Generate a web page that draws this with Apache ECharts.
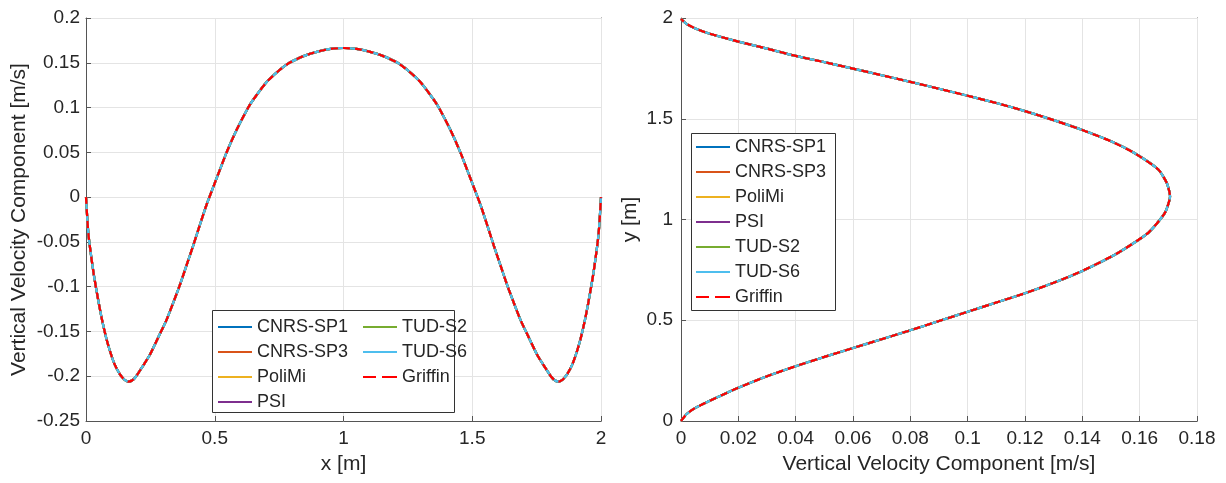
<!DOCTYPE html>
<html>
<head>
<meta charset="utf-8">
<script src="https://cdn.jsdelivr.net/npm/echarts@6/dist/echarts.min.js"></script>
<style>
html,body{margin:0;padding:0;background:#fff;}
#chart{width:1226px;height:483px;}
</style>
</head>
<body>
<div id="chart"></div>
<script>
// ---------- DATA ----------
const seriesNames = ['CNRS-SP1','CNRS-SP3','PoliMi','PSI','TUD-S2','TUD-S6','Griffin'];
const seriesColors = ['#0072BD','#D95319','#EDB120','#7E2F8E','#77AC30','#4DBEEE','#FF0000'];

// Left panel: vertical velocity along horizontal line, x [m]
const leftX = [0,0.005,0.01,0.02,0.03,0.04,0.05,0.06,0.07,0.08,0.09,0.1,0.11,0.12,0.13,0.14,0.15,0.165,0.18,0.195,0.22,0.247,0.28,0.312,0.34,0.364,0.39,0.416,0.44,0.468,0.5,0.545,0.585,0.629,0.65,0.7,0.75,0.79,0.85,0.9,0.95,1.0,
  1.05,1.1,1.15,1.21,1.25,1.3,1.35,1.371,1.415,1.455,1.5,1.532,1.56,1.584,1.61,1.636,1.66,1.688,1.72,1.753,1.78,1.805,1.82,1.835,1.85,1.86,1.87,1.88,1.89,1.9,1.91,1.92,1.93,1.94,1.95,1.96,1.97,1.98,1.99,1.995,2.0];
const leftV = [0,-0.024,-0.043,-0.066,-0.086,-0.103,-0.119,-0.134,-0.147,-0.159,-0.169,-0.178,-0.186,-0.192,-0.197,-0.201,-0.204,-0.206,-0.2045,-0.2,-0.189,-0.1766,-0.157,-0.1376,-0.117,-0.0986,-0.0765,-0.0544,-0.033,-0.0086,0.0155,0.0492,0.0752,0.0996,0.109,0.128,0.1415,0.15,0.158,0.1625,0.1655,0.1665,
  0.1655,0.1625,0.158,0.15,0.1415,0.128,0.109,0.0996,0.0752,0.0492,0.0155,-0.0086,-0.033,-0.0544,-0.0765,-0.0986,-0.117,-0.1376,-0.157,-0.1766,-0.189,-0.2,-0.2045,-0.206,-0.204,-0.201,-0.197,-0.192,-0.186,-0.178,-0.169,-0.159,-0.147,-0.134,-0.119,-0.103,-0.086,-0.066,-0.043,-0.024,0];

// Right panel: vertical velocity vs y [m]
const rightV = [0,0.002,0.005,0.01,0.015,0.02,0.03,0.04,0.05,0.06,0.07,0.08,0.09,0.1,0.11,0.12,0.13,0.14,0.1524,0.163,0.1688,0.1706,0.1695,0.1665,0.158,0.15,0.14,0.13,0.12,0.11,0.1,0.09,0.08,0.07,0.06,0.05,0.04,0.03,0.02,0.01,0.005,0.002,0];
const rightY = [0,0.035,0.065,0.1,0.133,0.165,0.222,0.272,0.318,0.362,0.406,0.45,0.496,0.542,0.588,0.634,0.686,0.745,0.834,0.934,1.033,1.116,1.18,1.248,1.331,1.388,1.444,1.493,1.538,1.578,1.614,1.649,1.683,1.716,1.749,1.781,1.812,1.848,1.883,1.922,1.948,1.97,1.995];

// Axis ranges / tick steps
const leftXRange = [0, 2, 0.5];
const leftYRange = [-0.25, 0.2, 0.05];
const rightXRange = [0, 0.18, 0.02];
const rightYRange = [0, 2, 0.5];

const leftXTitle = 'x [m]';
const leftYTitle = 'Vertical Velocity Component [m/s]';
const rightXTitle = 'Vertical Velocity Component [m/s]';
const rightYTitle = 'y [m]';

// ---------- CHART ----------
const FONT = '"Liberation Sans", Arial, Helvetica, sans-serif';
const TXT = '#262626';
const AX = '#555555';
const GRIDC = '#e4e4e4';
const TICK_FS = 19, TITLE_FS = 21, LEGEND_FS = 18;

function mainAxis(range, gridIndex, position, name, nameGap, labelMargin) {
  return {
    type: 'value', gridIndex, position, min: range[0], max: range[1], interval: range[2],
    name, nameLocation: 'middle', nameGap,
    nameTextStyle: {fontFamily: FONT, fontSize: TITLE_FS, color: TXT},
    axisLine: {show: true, onZero: false, lineStyle: {color: AX, width: 1}},
    axisTick: {show: true, inside: true, length: 5, lineStyle: {color: AX}},
    axisLabel: {show: true, fontFamily: FONT, fontSize: TICK_FS, color: TXT, margin: labelMargin, showMinLabel: true, showMaxLabel: true, hideOverlap: false},
    splitLine: {show: true, lineStyle: {color: GRIDC, width: 1}},
    z: 1
  };
}
function boxAxis(range, gridIndex, position) {
  return {
    type: 'value', gridIndex, position, min: range[0], max: range[1], interval: range[2],
    axisLine: {show: true, onZero: false, lineStyle: {color: AX, width: 1}},
    axisTick: {show: true, inside: true, length: 5, lineStyle: {color: AX}},
    axisLabel: {show: false},
    splitLine: {show: false}
  };
}

const leftData = leftX.map((x, i) => [x, leftV[i]]);
const rightData = rightV.map((v, i) => [v, rightY[i]]);

const series = [];
[leftData, rightData].forEach((d, panel) => {
  seriesNames.forEach((n, i) => {
    const dashed = n === 'Griffin';
    series.push({
      type: 'line', name: n, xAxisIndex: panel * 2, yAxisIndex: panel * 2,
      data: d, symbol: 'none', showSymbol: false, smooth: 0.2,
      color: seriesColors[i],
      lineStyle: {color: seriesColors[i], width: 2.2, type: dashed ? [7, 5] : 'solid'},
      z: 3 + i, animation: false
    });
  });
});

const SOLID_ICON = 'rect';
const DASH_ICON = 'path://M0,0h13v2h-13z M19,0h15v2h-15z';

function legendBlock(names, left, top) {
  return {
    show: true, orient: 'vertical', left, top, padding: 0, itemGap: 7,
    itemWidth: 34, itemHeight: 2,
    data: names.map(n => ({name: n, icon: n === 'Griffin' ? DASH_ICON : SOLID_ICON})),
    textStyle: {fontFamily: FONT, fontSize: LEGEND_FS, color: TXT, lineHeight: 18},
    selectedMode: false, z: 10
  };
}

const option = {
  animation: false,
  backgroundColor: '#ffffff',
  grid: [
    {left: 86, top: 18, width: 515, height: 403, outerBoundsMode: 'none', containLabel: false},
    {left: 681, top: 18, width: 516, height: 403, outerBoundsMode: 'none', containLabel: false}
  ],
  xAxis: [
    mainAxis(leftXRange, 0, 'bottom', leftXTitle, 33, 8),
    boxAxis(leftXRange, 0, 'top'),
    mainAxis(rightXRange, 1, 'bottom', rightXTitle, 33, 8),
    boxAxis(rightXRange, 1, 'top')
  ],
  yAxis: [
    mainAxis(leftYRange, 0, 'left', leftYTitle, 56, 6),
    boxAxis(leftYRange, 0, 'right'),
    mainAxis(rightYRange, 1, 'left', rightYTitle, 40, 8),
    boxAxis(rightYRange, 1, 'right')
  ],
  graphic: [
    {type: 'rect', left: 212, top: 310, shape: {x: 0, y: 0, width: 242, height: 102}, style: {fill: '#fff', stroke: '#333', lineWidth: 1}, z: 8},
    {type: 'rect', left: 691, top: 133, shape: {x: 0, y: 0, width: 144, height: 177}, style: {fill: '#fff', stroke: '#333', lineWidth: 1}, z: 8}
  ],
  legend: [
    legendBlock(['CNRS-SP1','CNRS-SP3','PoliMi','PSI'], 218, 318),
    legendBlock(['TUD-S2','TUD-S6','Griffin'], 363, 318),
    legendBlock(seriesNames, 696, 138)
  ],
  series
};

const chart = echarts.init(document.getElementById('chart'), null, {renderer: 'canvas'});
chart.setOption(option);
</script>
</body>
</html>
